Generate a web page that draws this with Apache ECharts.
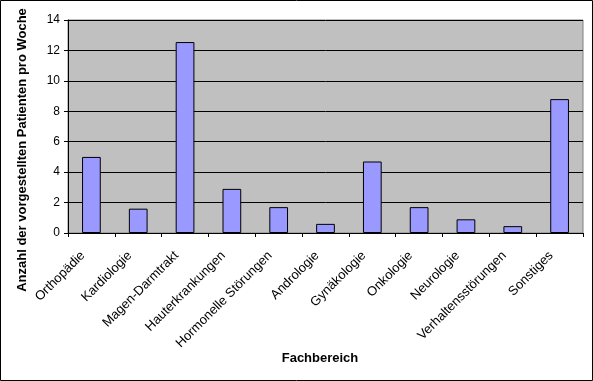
<!DOCTYPE html>
<html><head><meta charset="utf-8">
<script src="https://cdn.jsdelivr.net/npm/echarts@6/dist/echarts.min.js"></script>
<style>html,body{margin:0;padding:0;background:#fff}#c{width:593px;height:381px}</style>
</head><body><div id="c"></div>
<script>
const categories = ["Orthopädie","Kardiologie","Magen-Darmtrakt","Hauterkrankungen","Hormonelle Störungen","Andrologie","Gynäkologie","Onkologie","Neurologie","Verhaltensstörungen","Sonstiges"];
const values = [5.0, 1.6, 12.55, 2.9, 1.7, 0.6, 4.7, 1.7, 0.9, 0.45, 8.8];
const yTicks = {min: 0, max: 14, interval: 2};
const yTitle = "Anzahl der vorgestellten Patienten pro Woche";
const xTitle = "Fachbereich";

const chart = echarts.init(document.getElementById('c'), null, {renderer: 'canvas'});
const F = '"Liberation Sans", Arial, sans-serif';
chart.setOption({
  animation: false,
  backgroundColor: '#fff',
  textStyle: {fontFamily: F},
  grid: {left: 68, right: 10, top: 20, bottom: 148, show: true, backgroundColor: '#c0c0c0', borderColor: '#808080', borderWidth: 1},
  xAxis: {
    type: 'category', data: categories,
    axisLine: {lineStyle: {color: '#000', width: 1}},
    axisTick: {show: true, length: 4, lineStyle: {color: '#000'}},
    axisLabel: {rotate: 45, interval: 0, color: '#000', fontSize: 13, fontFamily: F, margin: 29, verticalAlign: 'bottom', lineHeight: 24}
  },
  yAxis: {
    type: 'value', min: yTicks.min, max: yTicks.max, interval: yTicks.interval,
    axisLine: {show: true, lineStyle: {color: '#000'}},
    axisTick: {show: true, length: 4, lineStyle: {color: '#000'}},
    axisLabel: {color: '#000', fontSize: 12, fontFamily: F, margin: 8},
    splitLine: {show: true, lineStyle: {color: '#000', width: 1}}
  },
  series: [{
    type: 'bar', data: values, barWidth: '40%',
    itemStyle: {color: '#9999ff', borderColor: '#000', borderWidth: 1}
  }],
  graphic: [
    {type: 'rect', shape: {x: 0.5, y: 0.5, width: 592, height: 380}, style: {fill: 'none', stroke: '#000', lineWidth: 1}, silent: true},
    {type: 'text', x: 22, y: 150, rotation: Math.PI/2, style: {text: yTitle, font: 'bold 13px "Liberation Sans", Arial, sans-serif', fill: '#000', textAlign: 'center', textVerticalAlign: 'middle'}},
    {type: 'text', x: 320, y: 358, style: {text: xTitle, font: 'bold 13px "Liberation Sans", Arial, sans-serif', fill: '#000', textAlign: 'center', textVerticalAlign: 'middle'}}
  ]
});
</script></body></html>
